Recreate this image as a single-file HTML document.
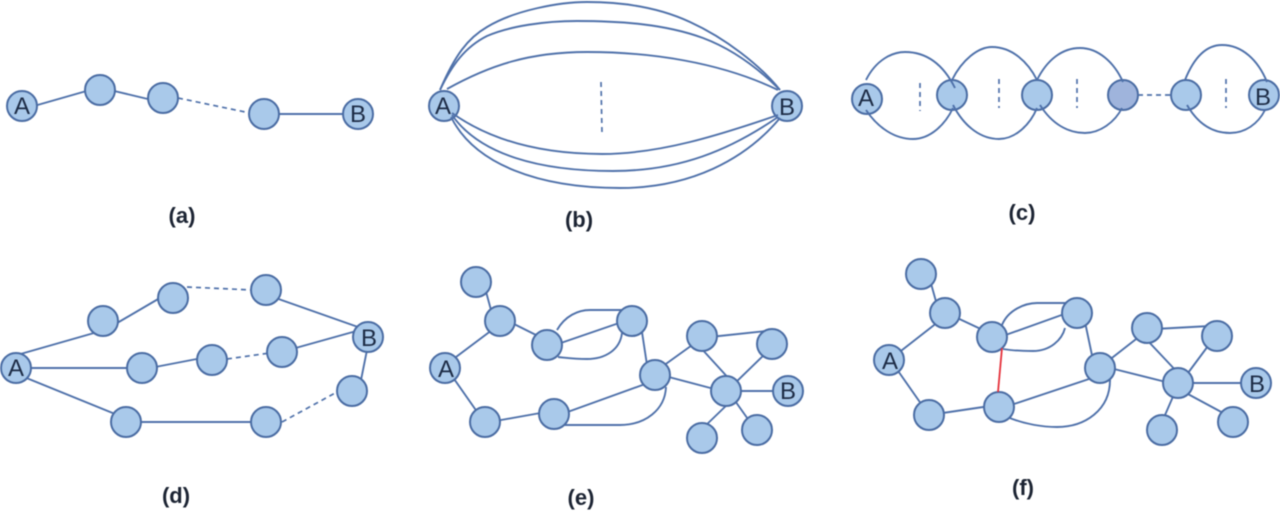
<!DOCTYPE html>
<html><head><meta charset="utf-8"><style>
html,body{margin:0;padding:0;background:#fff;width:1280px;height:511px;overflow:hidden}
svg{display:block;filter:blur(.45px)}
.e{fill:none;stroke:#4f71aa;stroke-width:1.9}
.d{fill:none;stroke:#4f71aa;stroke-width:1.7;stroke-dasharray:5 4}
.n circle{fill:#a9c9ea;stroke:#4a6ca3;stroke-width:2;r:15px}
.t{font:24px "Liberation Sans",sans-serif;fill:#1d2c46;text-anchor:middle}
.l{font:bold 22px "Liberation Sans",sans-serif;fill:#1c2433;text-anchor:middle}
</style></head><body>
<svg width="1280" height="511" viewBox="0 0 1280 511" xmlns="http://www.w3.org/2000/svg">
<!-- a -->
<path class="e" d="M34 106L90 90M110 90L152 100M275 114H347"/>
<path class="d" d="M178 98L250 113"/>
<g class="n"><circle cx="22" cy="106"/><circle cx="100" cy="90"/><circle cx="163" cy="98"/><circle cx="264" cy="114"/><circle cx="358" cy="114"/></g>
<text class="t" x="22" y="114">A</text><text class="t" x="358" y="122">B</text>
<text class="l" x="182" y="223">(a)</text>
<!-- b -->
<g class="n"><circle cx="444" cy="106"/><circle cx="787" cy="106"/></g>
<text class="t" x="443" y="114">A</text><text class="t" x="787" y="115">B</text>
<path class="e" d="M440 90C455 55 468 38 487 27C515 10 560 2 587 2C625 2 660 8 690 22C725 38 760 65 780 90"/>
<path class="e" d="M440 90C452 65 465 47 487 36C510 26 545 21 577 21C620 21 665 24 703 38C735 50 760 70 780 90"/>
<path class="e" d="M447 89C490 65 530 52 587 52C650 52 720 62 778 90"/>
<path class="e" d="M452 113C490 140 540 154 602 154C660 154 720 135 778 115"/>
<path class="e" d="M452 115C480 155 540 171 613 171C680 171 730 150 778 117"/>
<path class="e" d="M451 117C475 165 540 188 620 188C690 188 745 160 780 118"/>
<path class="d" d="M601 82L602 133"/>
<text class="l" x="579" y="227">(b)</text>
<!-- c -->
<g class="n"><circle cx="867" cy="99"/><circle cx="952" cy="95"/><circle cx="1037" cy="95"/><circle cx="1123" cy="95" style="fill:#9fb4dc"/><circle cx="1186" cy="95"/><circle cx="1264" cy="95"/></g>
<text class="t" x="866" y="106">A</text><text class="t" x="1263" y="105">B</text>
<path class="e" d="M866 80C876 60 892 52 905 52C930 52 945 68 955 88"/>
<path class="e" d="M866 110C878 128 895 139 913 139C930 139 945 125 953 108"/>
<path class="e" d="M952 80C962 60 978 47 992 47C1012 47 1028 62 1037 80"/>
<path class="e" d="M953 105C965 128 982 139 999 139C1015 139 1030 125 1037 108"/>
<path class="e" d="M1037 80C1047 60 1062 48 1080 48C1098 48 1114 62 1123 82"/>
<path class="e" d="M1040 105C1052 124 1068 133 1085 133C1100 133 1115 122 1122 108"/>
<path class="e" d="M1185 80C1193 60 1205 45 1222 45C1242 45 1258 60 1267 82"/>
<path class="e" d="M1187 105C1198 124 1212 133 1230 133C1245 133 1258 124 1265 110"/>
<path class="d" d="M920 83V111M999 79V108M1077 79V108M1226 79V108M1138 95H1171"/>
<text class="l" x="1022" y="220">(c)</text>
<!-- d -->
<path class="e" d="M17 355L94 333M112 326L165 295M270 296L358 327M28 368H130M150 368L202 358M292 349L360 330M368 345L360 385M24 377L120 416M135 422H256"/>
<path class="d" d="M187 287L252 290M227 359L270 353M282 422L337 392"/>
<g class="n"><circle cx="16" cy="368"/><circle cx="103" cy="321"/><circle cx="173" cy="298"/><circle cx="266" cy="290"/><circle cx="368" cy="337"/><circle cx="142" cy="368"/><circle cx="212" cy="360"/><circle cx="282" cy="352"/><circle cx="352" cy="391"/><circle cx="126" cy="422"/><circle cx="266" cy="422"/></g>
<text class="t" x="16" y="376">A</text><text class="t" x="369" y="346">B</text>
<text class="l" x="176" y="503">(d)</text>
<!-- e -->
<path class="e" d="M485 288L491 310M510 322L538 336M452 360L492 330M452 376L480 416M490 422L546 412M562 414L648 383M555 345L622 322M642 332L647 365M663 366L695 343M665 376L718 390M710 337L766 331M700 347L732 382M766 353L732 386M735 391H778M730 402L703 428M733 398L750 422"/>
<path class="e" d="M557 330C565 316 578 310 590 310L625 310M558 357C568 358 575 359 587 359C605 359 620 350 622 333M560 425L620 425C645 425 665 410 666 387"/>
<g class="n"><circle cx="445" cy="368"/><circle cx="476" cy="282"/><circle cx="500" cy="321"/><circle cx="547" cy="345"/><circle cx="632" cy="321"/><circle cx="655" cy="375"/><circle cx="702" cy="336"/><circle cx="772" cy="344"/><circle cx="726" cy="391"/><circle cx="788" cy="391"/><circle cx="485" cy="422"/><circle cx="554" cy="414"/><circle cx="702" cy="438"/><circle cx="757" cy="430"/></g>
<text class="t" x="446" y="377">A</text><text class="t" x="788" y="399">B</text>
<text class="l" x="581" y="505">(e)</text>
<!-- f -->
<path class="e" d="M930 280L937 305M953 316L985 331M897 354L938 322M896 368L924 408M936 414L990 406M1005 407L1092 378M1000 337L1070 312M1085 322L1093 360M1108 361L1140 336M1110 368L1170 383M1155 329L1210 326M1147 340L1180 375M1208 346L1185 377M1185 383H1246M1175 392L1162 422M1186 393L1225 414"/>
<path class="e" d="M1002 325C1008 310 1025 303 1037 303L1068 303M1003 349C1015 351 1025 351 1033 351C1050 351 1062 340 1065 328M1005 416C1025 425 1045 427 1057 427C1085 427 1110 410 1110 380"/>
<g class="n"><circle cx="889" cy="360"/><circle cx="921" cy="274"/><circle cx="945" cy="313"/><circle cx="992" cy="337"/><circle cx="1077" cy="313"/><circle cx="1100" cy="368"/><circle cx="1147" cy="328"/><circle cx="1217" cy="336"/><circle cx="1178" cy="383"/><circle cx="1256" cy="383"/><circle cx="929" cy="415"/><circle cx="999" cy="407"/><circle cx="1162" cy="430"/><circle cx="1233" cy="422"/></g>
<path d="M1002 348L998 392" fill="none" stroke="#e5323c" stroke-width="1.8"/>
<text class="t" x="890" y="369">A</text><text class="t" x="1257" y="392">B</text>
<text class="l" x="1023" y="495">(f)</text>
</svg>
</body></html>
